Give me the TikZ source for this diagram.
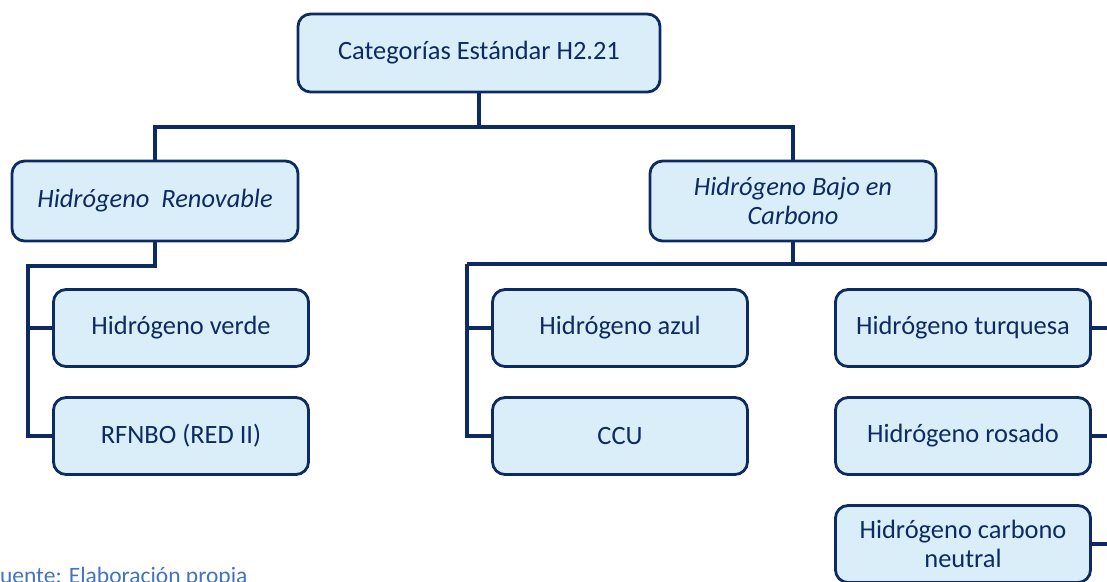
\documentclass[tikz,border=0pt]{standalone}
\usepackage{fontspec}
\setmainfont{Carlito}
\usetikzlibrary{positioning}
\definecolor{navy}{HTML}{0D2B62}
\definecolor{lightfill}{HTML}{DAEEF9}
\definecolor{srcblue}{HTML}{4472C4}

\begin{document}
\begin{tikzpicture}[x=0.025cm, y=-0.025cm,
		catbox/.style={rectangle, rounded corners=9pt, draw=navy, line width=2pt, fill=lightfill, text=navy, align=center, font=\fontsize{18.8}{20.8}\selectfont},
		topbox/.style={catbox, minimum width=9.05cm, minimum height=1.95cm},
		midbox/.style={catbox, minimum width=7.15cm, minimum height=2cm, font=\fontsize{18.8}{20.8}\selectfont\itshape},
		leafbox/.style={catbox, minimum width=6.375cm, minimum height=1.925cm},
		link/.style={draw=navy, line width=2.8pt}]
				
				\clip (0,0) rectangle (1107,581);
				
				\node[topbox] (T) at (479,53) {Categorías Estándar H2.21};
				
				\node[midbox] (R) at (155,201) {Hidrógeno\ \ Renovable};
				\node[midbox] (B) at (793,201) {Hidrógeno Bajo en\\Carbono};
				
				\coordinate (T1) at (479,127);
				\draw[link] (T.south) -- (T1) -| (R.north);
				\draw[link] (T1) -| (B.north);
				
				\node[leafbox] (R1) at (181,328) {Hidrógeno verde};
				\node[leafbox] (R2) at (181,436) {RFNBO (RED II)};
				
				\coordinate (RA) at (155,266);
				\coordinate (RB) at (28,266);
				\draw[link] (R.south) -- (RA) -- (RB) |- (R2.west);
				\draw[link] (RB) |- (R1.west);
				
				\node[leafbox] (B1) at (620,328) {Hidrógeno azul};
				\node[leafbox] (B2) at (620,436) {CCU};
				
				\node[leafbox] (B3) at (963,328) {Hidrógeno turquesa};
				\node[leafbox] (B4) at (963,436) {Hidrógeno rosado};
				\node[leafbox] (B5) at (963,544) {Hidrógeno carbono\\neutral};
				
				\coordinate (BA) at (793,264);
				\coordinate (BL) at (467,264);
				\coordinate (BR) at (1118,264);
				\draw[link] (B.south) -- (BA);
				\draw[link] (BL) -- (BR);
				\draw[link] (BL) |- (B2.west);
				\draw[link] (BL) |- (B1.west);
				\draw[link] (BR) |- (B5.east);
				\draw[link] (BR) |- (B3.east);
				\draw[link] (BR) |- (B4.east);
				
				\node[anchor=base west, text=srcblue, font=\fontsize{16.7}{18}\selectfont, inner sep=0pt] (S) at (-11,583) {Fuente: Elaboración propia};
				
			\end{tikzpicture}
\end{document}
